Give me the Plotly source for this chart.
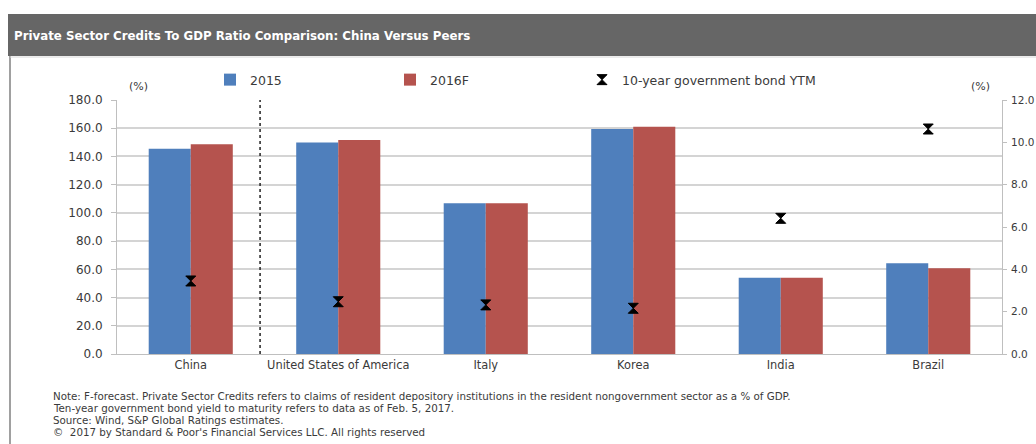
import plotly.graph_objects as go

# Chart data
countries = ["China", "United States of America", "Italy", "Korea", "India", "Brazil"]
credit_2015 = [145.5, 149.8, 106.8, 159.5, 54.1, 64.3]
credit_2016f = [148.6, 151.7, 106.8, 161.0, 54.1, 60.7]
bond_ytm = [3.45, 2.47, 2.32, 2.16, 6.41, 10.63]

left_ticks = [0, 20, 40, 60, 80, 100, 120, 140, 160, 180]
right_ticks = [0, 2, 4, 6, 8, 10, 12]

notes = [
    "Note: F-forecast. Private Sector Credits refers to claims of resident depository institutions in the resident nongovernment sector as a % of GDP.",
    "Ten-year government bond yield to maturity refers to data as of Feb. 5, 2017.",
    "Source: Wind, S&P Global Ratings estimates.",
    "\u00a9  2017 by Standard & Poor's Financial Services LLC. All rights reserved",
]

W, H = 1036, 444
L, R, T, B = 117, 1002, 100, 354  # plot area in pixels


def px(x):
    return (x - L) / (R - L)


def py(y):
    return (B - y) / (B - T)


FONT = "DejaVu Sans, Verdana, sans-serif"
TXT = "#3A3A3A"

fig = go.Figure()
fig.add_trace(go.Bar(x=countries, y=credit_2015, name="2015", legend="legend",
                     marker=dict(color="#4F7FBC", line=dict(width=0))))
fig.add_trace(go.Bar(x=countries, y=credit_2016f, name="2016F", legend="legend2",
                     marker=dict(color="#B5534E", line=dict(width=0))))
fig.add_trace(go.Scatter(x=countries, y=bond_ytm, name="10-year government bond YTM",
                         mode="markers", yaxis="y2", legend="legend3",
                         marker=dict(symbol="hourglass", size=10, color="black",
                                     line=dict(width=1, color="black"))))

shapes = [
    # header bar
    dict(type="rect", xref="paper", yref="paper", x0=px(8), x1=px(1040),
         y0=py(56), y1=py(14), fillcolor="#666666", line=dict(width=0), layer="below"),
    # frame of the chart panel
    dict(type="line", xref="paper", yref="paper", x0=px(10), x1=px(10),
         y0=py(444), y1=py(56), line=dict(color="#A0A0A0", width=2)),
    dict(type="line", xref="paper", yref="paper", x0=px(10), x1=px(1040),
         y0=py(57), y1=py(57), line=dict(color="#D8D8D8", width=1)),
    # divider between China and peers
    dict(type="line", xref="x", yref="y", x0=0.47, x1=0.47, y0=0, y1=180,
         line=dict(color="#222222", width=1.5, dash="dot")),
]

annotations = [
    dict(text="<b>Private Sector Credits To GDP Ratio Comparison: China Versus Peers</b>",
         xref="paper", yref="paper", x=px(12), y=py(36), xanchor="left", yanchor="middle",
         showarrow=False, font=dict(family=FONT, size=11.8, color="white")),
    dict(text="(%)", xref="paper", yref="paper", x=px(138), y=py(86), xanchor="center",
         yanchor="middle", showarrow=False, font=dict(family=FONT, size=11, color=TXT)),
    dict(text="(%)", xref="paper", yref="paper", x=px(980), y=py(86), xanchor="center",
         yanchor="middle", showarrow=False, font=dict(family=FONT, size=11, color=TXT)),
]
for i, line in enumerate(notes):
    annotations.append(dict(text=line, xref="paper", yref="paper", x=px(51), y=py(396 + 12 * i),
                            xanchor="left", yanchor="middle", showarrow=False,
                            font=dict(family=FONT, size=10.3, color=TXT)))


def legend_at(x_px):
    return dict(orientation="h", x=px(x_px), y=py(80), xanchor="left", yanchor="middle",
                itemwidth=30, font=dict(family=FONT, size=12.5, color=TXT),
                bgcolor="rgba(0,0,0,0)")


fig.update_layout(
    width=W, height=H,
    margin=dict(l=L, r=W - R, t=T, b=H - B, pad=0, autoexpand=False),
    paper_bgcolor="white", plot_bgcolor="white",
    barmode="group", bargap=0.43, bargroupgap=0,
    font=dict(family=FONT, size=11, color=TXT),
    showlegend=True,
    legend=legend_at(210), legend2=legend_at(390), legend3=legend_at(582),
    xaxis=dict(type="category", showgrid=False, showline=True, linecolor="#BFBFBF",
               ticks="", tickfont=dict(size=11.4, color=TXT), range=[-0.5, 5.5],
               automargin=False),
    yaxis=dict(range=[0, 180], tickvals=left_ticks, tickformat=".1f", showgrid=True,
               gridcolor="#D4D4D4", gridwidth=1.5, showline=True, linecolor="#BFBFBF",
               ticks="outside", ticklen=5, tickcolor="#BFBFBF", zeroline=False,
               tickfont=dict(size=12, color=TXT), ticklabelstandoff=6, automargin=False),
    yaxis2=dict(range=[0, 12], tickvals=right_ticks, tickformat=".1f", overlaying="y",
                side="right", showgrid=False, showline=True, linecolor="#BFBFBF",
                ticks="outside", ticklen=4, tickcolor="#BFBFBF", zeroline=False,
                tickfont=dict(size=10.5, color=TXT), ticklabelstandoff=2, automargin=False),
    shapes=shapes, annotations=annotations,
)

fig.write_html("out.html")
